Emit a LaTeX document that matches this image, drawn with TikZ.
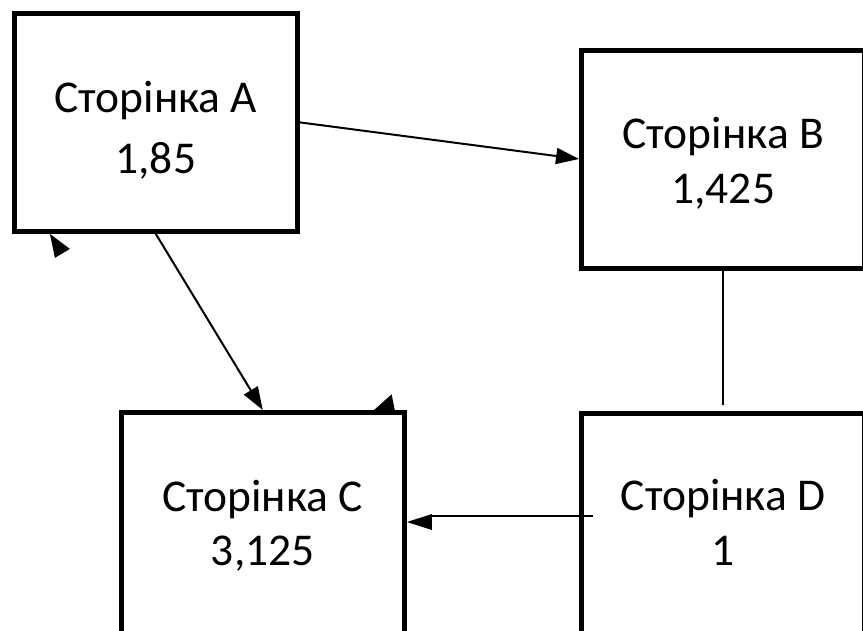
\documentclass[tikz,border=0pt]{standalone}
\usepackage{fontspec}
\setmainfont{Carlito}
\usetikzlibrary{arrows.meta,calc}
\begin{document}
\begin{tikzpicture}[x=1pt,y=-1pt,
  page/.style={draw=black, line width=5pt, fill=white, inner sep=0pt,
    minimum width=283.4pt, minimum height=218pt},
  tall/.style={minimum height=225pt},
  caption/.style={anchor=base, inner sep=0pt, font=\fontsize{45.5}{55}\selectfont},
  link/.style={line width=2pt},
  arr/.style={link, -{Triangle[length=23pt,width=16pt]}}]
\useasboundingbox (0,0) rectangle (863,630);

% pages
\node[page] (A) at (155.8,122.4) {};
\node[page] (B) at (723.25,159) {};
\node[page,tall] (C) at (262.75,525) {};
\node[page,tall] (D) at (723.25,525.5) {};

% page titles and ranks
\node[caption] (A1) at ($(A.center)+(0,-9.7)$) {Сторінка A};
\node[caption] (A2) at ($(A.center)+(0,50.9)$) {1,85};
\node[caption] (B1) at ($(B.center)+(0,-10.7)$) {Сторінка B};
\node[caption] (B2) at ($(B.center)+(0,44.3)$) {1,425};
\node[caption] (C1) at ($(C.center)+(0,-13.3)$) {Сторінка C};
\node[caption] (C2) at ($(C.center)+(0,40)$) {3,125};
\node[caption] (D1) at ($(D.center)+(0,-15.5)$) {Сторінка D};
\node[caption] (D2) at ($(D.center)+(0,39.5)$) {1};

% links
\draw[arr] (A.east) -- (B.west);
\draw[arr] (A.south) -- (C.north);
\draw[link] (B.south) -- ([yshift=6pt]D.north);
\draw[link] ($(D.north west)+(14,105.5)$) -- ($(C.north east)+(25,106)$);
\fill ($(C.north east)+(0,112)$) -- +(25,-8) -- +(25,8) -- cycle;

% loose arrow heads
\fill ($(A.south west)+(38.3,0)$) -- +(20,15) -- +(5,24) -- cycle;
\fill ($(C.north east)+(-15.3,-15.7)$) -- +(-18.7,16.7) -- +(3.3,16.7) -- cycle;
\end{tikzpicture}
\end{document}
